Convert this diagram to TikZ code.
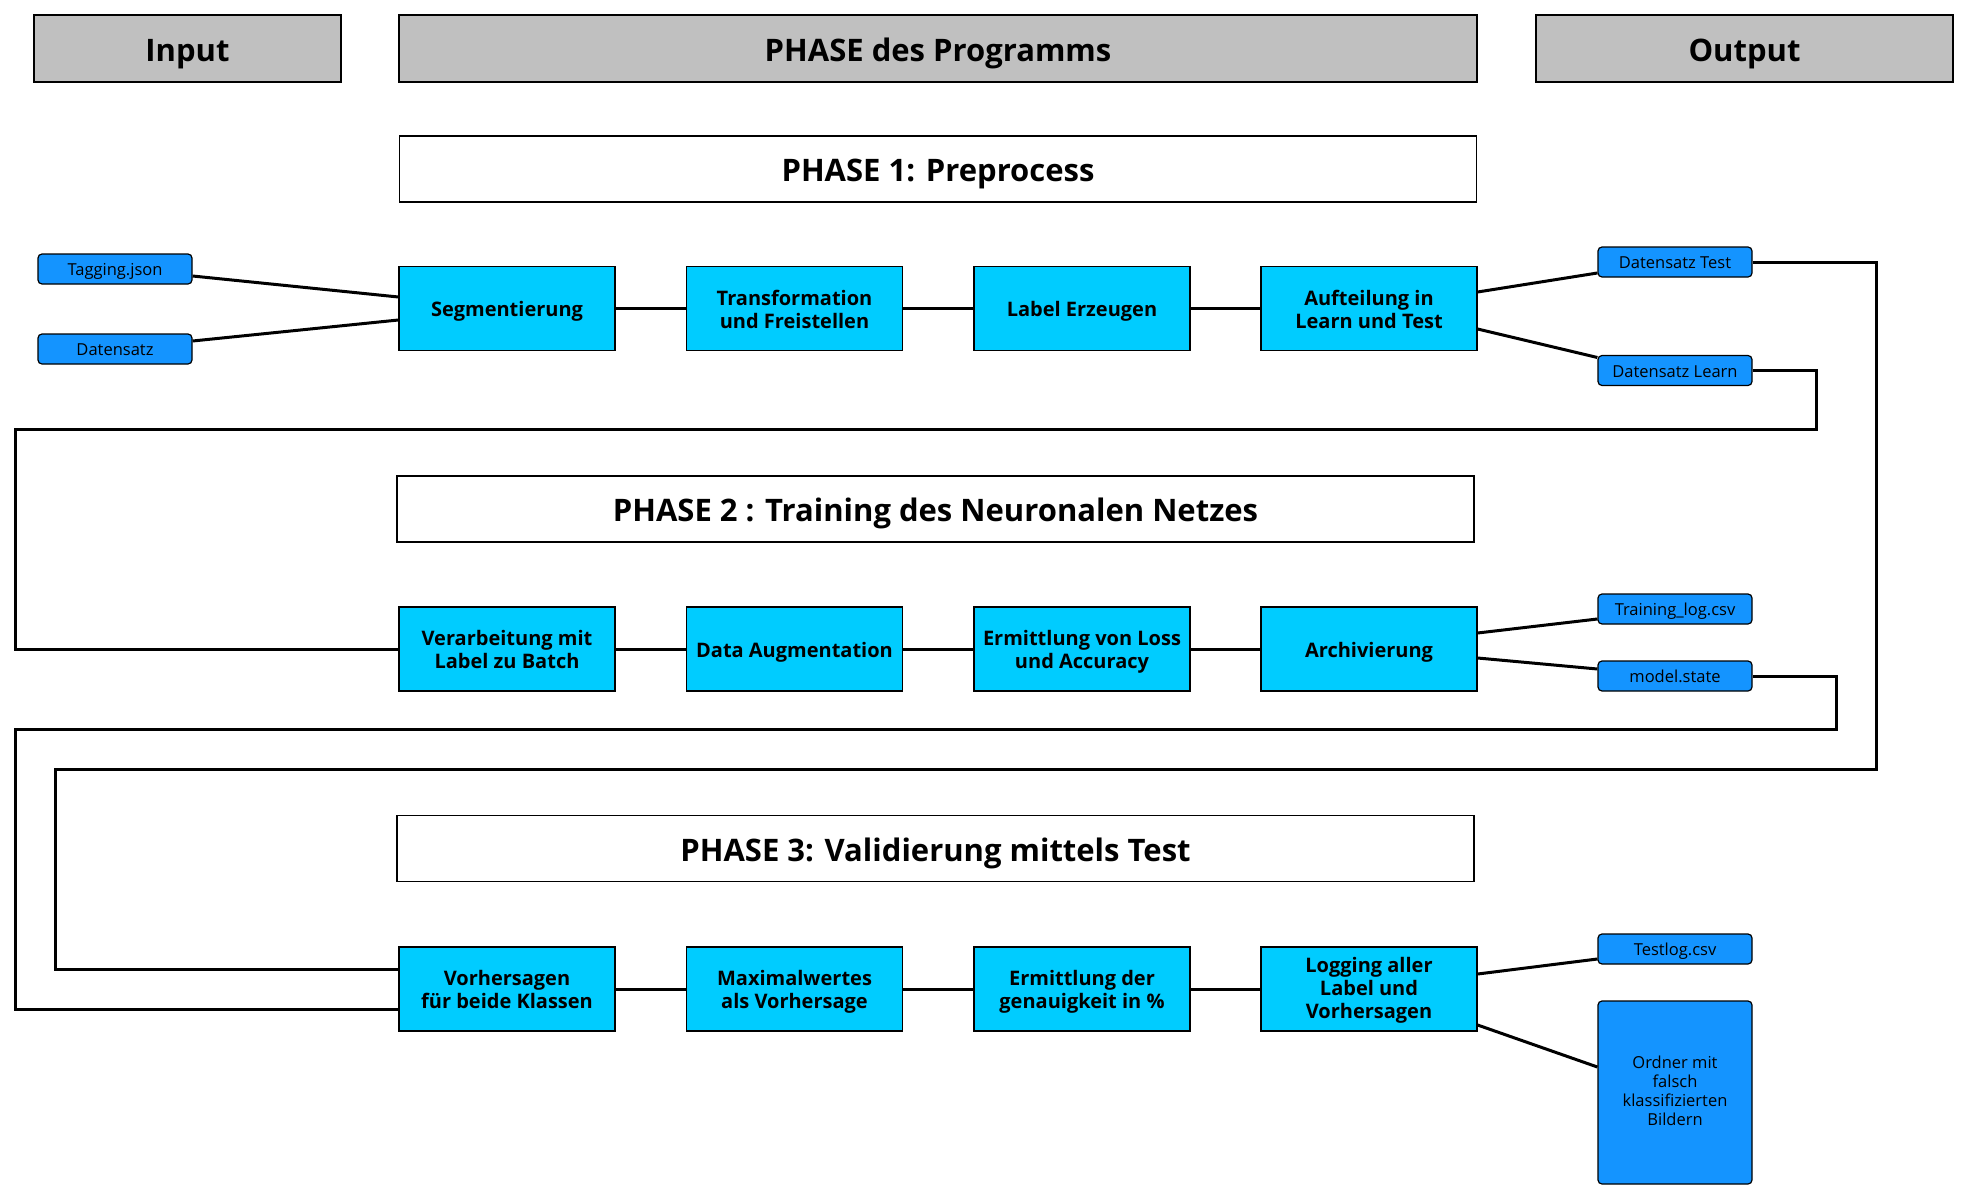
\documentclass[tikz,border=0pt]{standalone}
\usepackage{fontspec}
\setmainfont{Open Sans}
\usetikzlibrary{calc}
\definecolor{rowcyan}{RGB}{0,204,255}
\definecolor{fileblue}{RGB}{20,148,255}
\definecolor{headgray}{RGB}{192,192,192}
\newcommand\toppad[1]{\rule{0pt}{#1}}
\tikzset{
  textpad/.style={execute at begin node={\rule{0pt}{1.08em}}, execute at end node={\rule[-0.25em]{0pt}{0pt}}},
  headbox/.style={textpad, draw=black, line width=1.2pt, fill=headgray, inner sep=0pt, minimum height=67pt, font=\bfseries\fontsize{31}{33}\selectfont},
  phasebox/.style={textpad, draw=black, line width=1.2pt, fill=white, inner sep=0pt, minimum width=1077pt, minimum height=66pt, font=\bfseries\fontsize{31}{33}\selectfont},
  procbox/.style={textpad, draw=black, line width=1.2pt, fill=rowcyan, inner sep=0pt, minimum width=216pt, minimum height=84pt, align=center, font=\bfseries\fontsize{20}{23}\selectfont},
  filebox/.style={textpad, draw=black, line width=1.2pt, fill=fileblue, rounded corners=4pt, inner sep=0pt, minimum width=154pt, minimum height=30pt, align=center, font=\fontsize{16.5}{19}\selectfont},
  conn/.style={draw=black, line width=3pt},
}
\begin{document}
\begin{tikzpicture}[x=1pt,y=-1pt]
\useasboundingbox (0,0) rectangle (1968,1199);
% headers
\node[headbox, minimum width=307pt] (hin) at (187.5,48.5) {Input};
\node[headbox, minimum width=1078pt] (hphase) at (938,48.5) {PHASE des Programms};
\node[headbox, minimum width=417pt] (hout) at (1744.5,48.5) {Output};
% phase titles
\node[phasebox] (p1) at (938,169) {PHASE 1: Preprocess};
\node[phasebox] (p2) at (935.5,509) {PHASE 2 : Training des Neuronalen Netzes};
\node[phasebox] (p3) at (935.5,848.5) {PHASE 3: Validierung mittels Test};
% row 1
\node[procbox] (seg) at (507,308.5) {Segmentierung};
\node[procbox] (trans) at (794.5,308.5) {\toppad{1.05em}Transformation\\ und Freistellen};
\node[procbox] (lab) at (1082,308.5) {Label Erzeugen};
\node[procbox] (auf) at (1369,308.5) {\toppad{1.05em}Aufteilung in\\ Learn und Test};
% row 2
\node[procbox] (verar) at (507,649) {\toppad{1.05em}Verarbeitung mit\\ Label zu Batch};
\node[procbox] (aug) at (794.5,649) {Data Augmentation};
\node[procbox] (loss) at (1082,649) {\toppad{1.05em}Ermittlung von Loss\\ und Accuracy};
\node[procbox] (arch) at (1369,649) {Archivierung};
% row 3
\node[procbox] (vor) at (507,989) {\toppad{1.05em}Vorhersagen\\ für beide Klassen};
\node[procbox] (maxw) at (794.5,989) {\toppad{1.05em}Maximalwertes\\ als Vorhersage};
\node[procbox] (genau) at (1082,989) {\toppad{1.05em}Ermittlung der\\ genauigkeit in \%};
\node[procbox] (logg) at (1369,989) {\toppad{0.9em}Logging aller\\ Label und\\ Vorhersagen};
% files
\node[filebox] (tag) at (115,269) {Tagging.json};
\node[filebox] (dat) at (115,349) {Datensatz};
\node[filebox] (dt) at (1675,262) {Datensatz Test};
\node[filebox] (dl) at (1675,370.5) {Datensatz Learn};
\node[filebox] (tl) at (1675,609) {Training\_log.csv};
\node[filebox] (ms) at (1675,676) {model.state};
\node[filebox] (tlog) at (1675,949) {Testlog.csv};
\node[filebox, minimum height=183pt] (ord) at (1675,1092.5) {Ordner mit\\ falsch\\ klassifizierten\\ Bildern};
% routing coordinates
\coordinate (dlr) at (1816,429);
\coordinate (dll) at (15,429);
\coordinate (msr) at (1836,729);
\coordinate (msl) at (15,729);
\coordinate (dtr) at (1876,769);
\coordinate (dtl) at (55,769);
% connectors row 1
\draw[conn] ([yshift=-7pt]tag.east) -- ([yshift=11.5pt]seg.west);
\draw[conn] ([yshift=8pt]dat.east) -- ([yshift=-11.5pt]seg.west);
\draw[conn] (seg) -- (trans);
\draw[conn] (trans) -- (lab);
\draw[conn] (lab) -- (auf);
\draw[conn] ([yshift=16.5pt]auf.east) -- ([yshift=-11pt]dt.west);
\draw[conn] ([yshift=-20.5pt]auf.east) -- ([yshift=13pt]dl.west);
% row 2
\draw[conn] (dl.east) -| (dlr) -- (dll) |- (verar.west);
\draw[conn] (verar) -- (aug);
\draw[conn] (aug) -- (loss);
\draw[conn] (loss) -- (arch);
\draw[conn] ([yshift=16pt]arch.east) -- ([yshift=-10pt]tl.west);
\draw[conn] ([yshift=-9pt]arch.east) -- ([yshift=7pt]ms.west);
% row 3
\draw[conn] (ms.east) -| (msr) -- (msl) |- ([yshift=-20pt]vor.west);
\draw[conn] (dt.east) -| (dtr) -- (dtl) |- ([yshift=20pt]vor.west);
\draw[conn] (vor) -- (maxw);
\draw[conn] (maxw) -- (genau);
\draw[conn] (genau) -- (logg);
\draw[conn] ([yshift=15pt]logg.east) -- ([yshift=-10pt]tlog.west);
\draw[conn] ([yshift=-36pt]logg.east) -- ([yshift=25.5pt]ord.west);
\end{tikzpicture}
\end{document}
